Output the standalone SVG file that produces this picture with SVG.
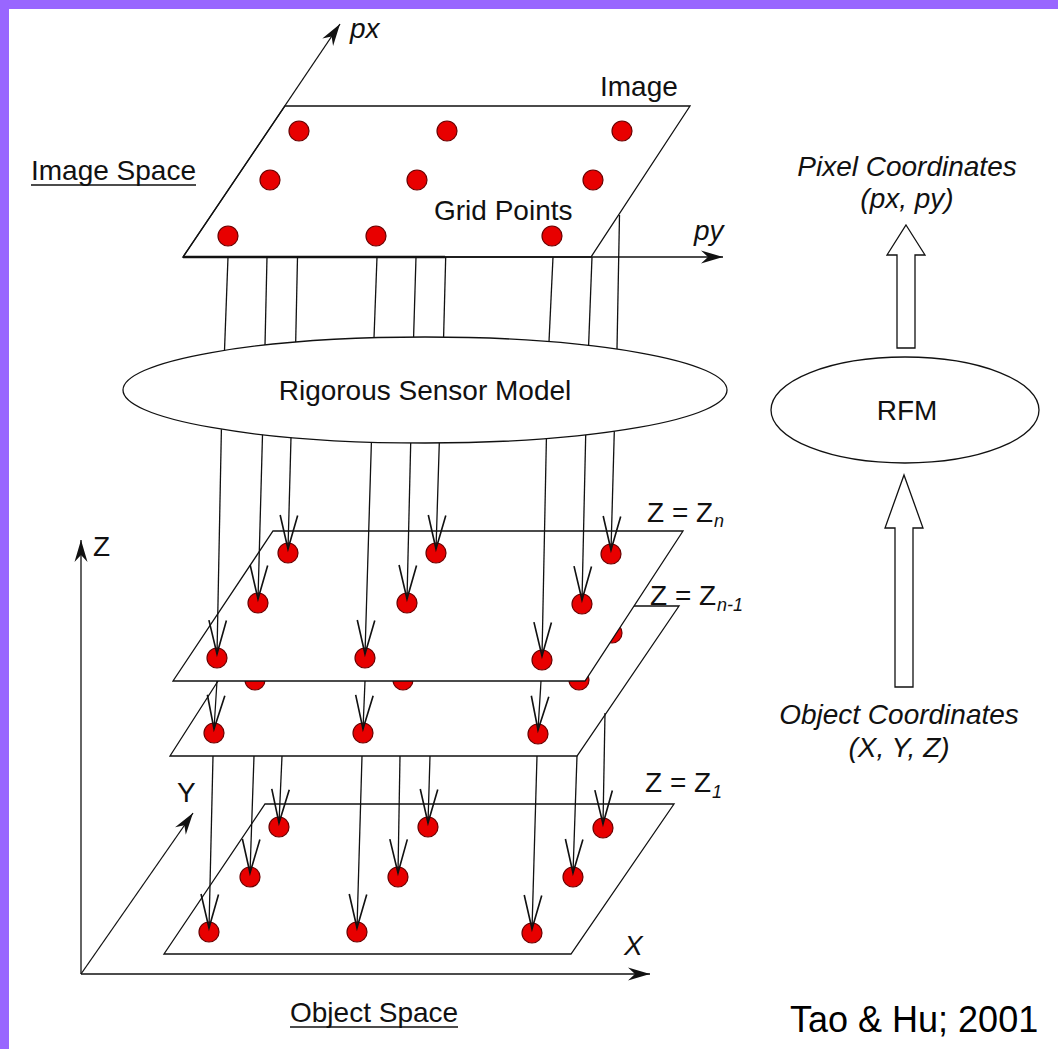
<svg xmlns="http://www.w3.org/2000/svg" width="1058" height="1049" viewBox="0 0 1058 1049">
<style>
.ln{stroke:#111;stroke-width:1.3;fill:none}
.pl{fill:#fff;stroke:#111;stroke-width:1.3}
.dot{fill:#e80000;stroke:#6b0000;stroke-width:1.2}
.t{font-family:"Liberation Sans",Arial,sans-serif;font-size:28px;fill:#111}
.i{font-style:italic}
.sub{font-size:18px;font-style:italic}
.blk{fill:#fff;stroke:#111;stroke-width:1.3}
</style>
<defs>
<marker id="vee" markerUnits="userSpaceOnUse" markerWidth="40" markerHeight="40" viewBox="-30 -10 32 20" refX="0" refY="0" orient="auto" overflow="visible"><path d="M-27,-7 L0,0 L-27,7" fill="none" stroke="#111" stroke-width="1.3"/></marker>
<marker id="stealth" markerUnits="userSpaceOnUse" markerWidth="30" markerHeight="20" viewBox="-24 -10 26 20" refX="0" refY="0" orient="auto" overflow="visible"><path d="M0,0 L-22,-6.5 L-15,0 L-22,6.5 Z" fill="#111"/></marker>
</defs>
<rect width="1058" height="1049" fill="#fff"/>
<g id="frame"><rect x="0" y="0" width="1058" height="9" fill="#9966ff"/><rect x="0" y="0" width="9" height="1049" fill="#9966ff"/></g>

<g id="image-plane">
<polygon class="pl" points="183,257 285,106 690,106 591,257"/>
<circle class="dot" cx="299" cy="131" r="10"/><circle class="dot" cx="447" cy="131" r="10"/><circle class="dot" cx="622" cy="131" r="10"/>
<circle class="dot" cx="270" cy="180" r="10"/><circle class="dot" cx="417" cy="180" r="10"/><circle class="dot" cx="593" cy="180" r="10"/>
<circle class="dot" cx="228" cy="236" r="10"/><circle class="dot" cx="376" cy="236" r="10"/><circle class="dot" cx="552" cy="236" r="10"/>
<text class="t" x="600" y="96">Image</text>
<text class="t" x="434" y="220">Grid Points</text>
</g>

<g id="image-axes">
<line class="ln" x1="183" y1="257" x2="340" y2="24" marker-end="url(#stealth)"/>
<line class="ln" x1="183" y1="257" x2="723" y2="257" marker-end="url(#stealth)"/>
<line x1="183" y1="257" x2="445" y2="257" stroke="#111" stroke-width="2.6"/>
<text class="t i" x="350" y="38">px</text>
<text class="t i" x="694" y="240">py</text>
</g>

<g id="label-image-space">
<text class="t" x="31" y="180">Image Space</text>
<line x1="31" y1="185" x2="196" y2="185" stroke="#111" stroke-width="1.5"/>
</g>

<g id="rigorous-sensor-model">
<ellipse class="pl" cx="425" cy="390" rx="302" ry="53"/>
<text class="t" x="425" y="400" text-anchor="middle">Rigorous Sensor Model</text>
</g>

<g id="plane-z1">
<polygon class="pl" points="265,804 674,804 571,954 164,954"/>
<circle class="dot" cx="279" cy="827" r="10"/><circle class="dot" cx="428" cy="827" r="10"/><circle class="dot" cx="603" cy="828" r="10"/>
<circle class="dot" cx="250" cy="877" r="10"/><circle class="dot" cx="398" cy="877" r="10"/><circle class="dot" cx="573" cy="877" r="10"/>
<circle class="dot" cx="209" cy="932" r="10"/><circle class="dot" cx="357" cy="932" r="10"/><circle class="dot" cx="532" cy="933" r="10"/>
<text class="t" x="645" y="792">Z = Z</text><text class="t sub" x="712" y="798">1</text>
</g>

<g id="plane-zn-1">
<polygon class="pl" points="266,606 679,606 577,756 170,756"/>
<circle class="dot" cx="285" cy="633" r="10"/><circle class="dot" cx="433" cy="633" r="10"/><circle class="dot" cx="612" cy="633" r="10"/>
<circle class="dot" cx="255" cy="680" r="10"/><circle class="dot" cx="403" cy="680" r="10"/><circle class="dot" cx="579" cy="680" r="10"/>
<circle class="dot" cx="214" cy="733" r="10"/><circle class="dot" cx="363" cy="733" r="10"/><circle class="dot" cx="538" cy="734" r="10"/>
</g>

<g id="plane-zn">
<polygon class="pl" points="273,531 683,531 585,681 173,681"/>
<circle class="dot" cx="288" cy="553" r="10"/><circle class="dot" cx="436" cy="553" r="10"/><circle class="dot" cx="611" cy="554" r="10"/>
<circle class="dot" cx="258" cy="603" r="10"/><circle class="dot" cx="407" cy="603" r="10"/><circle class="dot" cx="582" cy="604" r="10"/>
<circle class="dot" cx="217" cy="658" r="10"/><circle class="dot" cx="365" cy="658" r="10"/><circle class="dot" cx="542" cy="660" r="10"/>
<text class="t" x="647" y="522">Z = Z</text><text class="t sub" x="714" y="527">n</text>
</g>
<g id="label-zn-1"><text class="t" x="650" y="605">Z = Z</text><text class="t sub" x="717" y="611">n-1</text></g>

<g id="object-axes">
<line class="ln" x1="81" y1="974" x2="81" y2="540" marker-end="url(#stealth)"/>
<line class="ln" x1="81" y1="974" x2="650" y2="974" marker-end="url(#stealth)"/>
<line class="ln" x1="81" y1="974" x2="193" y2="813" marker-end="url(#stealth)"/>
<text class="t" x="93" y="556">Z</text>
<text class="t" x="177" y="802">Y</text>
<text class="t i" x="624" y="955">X</text>
</g>

<g id="label-object-space">
<text class="t" x="290" y="1022">Object Space</text>
<line x1="290" y1="1027" x2="458" y2="1027" stroke="#111" stroke-width="1.5"/>
</g>

<g id="pixel-coordinates">
<text class="t i" x="907" y="176" text-anchor="middle">Pixel Coordinates</text>
<text class="t i" x="907" y="208" text-anchor="middle">(px, py)</text>
</g>
<g id="rfm">
<ellipse class="pl" cx="905" cy="410" rx="134" ry="53"/>
<text class="t" x="907" y="420" text-anchor="middle">RFM</text>
</g>
<g id="object-coordinates">
<text class="t i" x="899" y="724" text-anchor="middle">Object Coordinates</text>
<text class="t i" x="899" y="757" text-anchor="middle">(X, Y, Z)</text>
</g>

<g id="connectors">
<polygon class="blk" points="906,225 925,255 915,255 915,348 897,348 897,255 887,255"/>
<polygon class="blk" points="904,475 923,528 913,528 913,687 895,687 895,528 885,528"/>
<line class="ln" x1="228" y1="257" x2="224.5" y2="350.4"/>
<line class="ln" x1="267" y1="257" x2="265" y2="345.1"/>
<line class="ln" x1="297.5" y1="257" x2="295.7" y2="342.1"/>
<line class="ln" x1="377" y1="257" x2="374" y2="337.8"/>
<line class="ln" x1="416" y1="257" x2="413.6" y2="337"/>
<line class="ln" x1="445.7" y1="257" x2="443.6" y2="337.1"/>
<line class="ln" x1="553" y1="257" x2="549" y2="341.7"/>
<line class="ln" x1="592" y1="257" x2="588.6" y2="345.5"/>
<line class="ln" x1="619.5" y1="215" x2="617" y2="349.1"/>
<line class="ln" x1="221.4" y1="429.2" x2="217" y2="654" marker-end="url(#vee)"/>
<line class="ln" x1="262.5" y1="434.7" x2="258" y2="599" marker-end="url(#vee)"/>
<line class="ln" x1="291" y1="437.5" x2="288" y2="549" marker-end="url(#vee)"/>
<line class="ln" x1="371.4" y1="442.2" x2="365" y2="654" marker-end="url(#vee)"/>
<line class="ln" x1="410.7" y1="443" x2="407" y2="599" marker-end="url(#vee)"/>
<line class="ln" x1="439.3" y1="443" x2="436" y2="549" marker-end="url(#vee)"/>
<line class="ln" x1="546.4" y1="438.5" x2="542" y2="656" marker-end="url(#vee)"/>
<line class="ln" x1="585.7" y1="434.9" x2="582" y2="600" marker-end="url(#vee)"/>
<line class="ln" x1="614.3" y1="431.3" x2="611" y2="550" marker-end="url(#vee)"/>
<line class="ln" x1="217" y1="681" x2="214" y2="729" marker-end="url(#vee)"/>
<line class="ln" x1="365" y1="681" x2="363" y2="729" marker-end="url(#vee)"/>
<line class="ln" x1="541" y1="681" x2="538" y2="730" marker-end="url(#vee)"/>
<line class="ln" x1="213" y1="756" x2="209" y2="928" marker-end="url(#vee)"/>
<line class="ln" x1="254" y1="756" x2="250" y2="873" marker-end="url(#vee)"/>
<line class="ln" x1="282" y1="756" x2="279" y2="823" marker-end="url(#vee)"/>
<line class="ln" x1="362" y1="756" x2="357" y2="928" marker-end="url(#vee)"/>
<line class="ln" x1="400" y1="756" x2="398" y2="873" marker-end="url(#vee)"/>
<line class="ln" x1="430" y1="756" x2="428" y2="823" marker-end="url(#vee)"/>
<line class="ln" x1="537" y1="756" x2="532" y2="929" marker-end="url(#vee)"/>
<line class="ln" x1="577" y1="756" x2="573" y2="873" marker-end="url(#vee)"/>
<line class="ln" x1="605" y1="713" x2="603" y2="824" marker-end="url(#vee)"/>
</g>

<g id="credit"><text x="790" y="1032" font-family="Liberation Sans, Arial, sans-serif" font-size="36" fill="#000">Tao &amp; Hu; 2001</text></g>
</svg>
